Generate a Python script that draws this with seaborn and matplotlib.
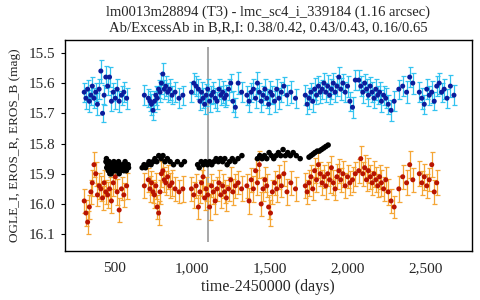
import numpy as np
import pandas as pd
import matplotlib
matplotlib.use('Agg')
import matplotlib.pyplot as plt
import seaborn as sns

nan = np.nan

# EROS epochs (B and R taken together), one line per season
eros_t = [305, 316, 327, 338, 348, 357, 368, 379, 390, 401, 412, 423, 433, 444, 456, 468, 480, 492, 505, 517, 530, 545, 560, 578,
          692, 718, 728, 738, 748, 757, 766, 775, 784, 793, 802, 811, 820, 830, 842, 855, 870, 890, 915, 940,
          995, 1010, 1025, 1040, 1050, 1060, 1070, 1080, 1090, 1100, 1112, 1124, 1136, 1148, 1160, 1172, 1184, 1196, 1208, 1220, 1234, 1248, 1262, 1278, 1296, 1318,
          1352, 1366, 1380, 1394, 1408, 1420, 1432, 1444, 1456, 1468, 1480, 1492, 1504, 1516, 1530, 1544, 1558, 1574, 1590, 1610, 1635, 1665,
          1728, 1740, 1752, 1764, 1776, 1788, 1800, 1812, 1824, 1836, 1848, 1860, 1872, 1884, 1896, 1908, 1920, 1932, 1944, 1956, 1970, 1985, 2000, 2015, 2032, 2050,
          2072, 2085, 2098, 2110, 2122, 2134, 2146, 2158, 2170, 2182, 2194, 2206, 2218, 2232, 2246, 2262, 2280, 2300, 2330, 2355, 2380, 2400, 2420,
          2462, 2478, 2494, 2510, 2526, 2542, 2558, 2574, 2590, 2606, 2622, 2640, 2662, 2685]

eros_b = [15.63, 15.65, 15.62, 15.66, 15.64, 15.61, 15.65, 15.63, 15.67, 15.62, 15.56, 15.70, 15.64, 15.58, 15.61, 15.58, 15.66, 15.63, 15.65, 15.62, 15.66, 15.64, 15.63, 15.65,
          15.64, 15.65, 15.66, 15.67, 15.69, 15.66, 15.64, 15.65, 15.62, 15.63, 15.60, 15.57, 15.62, 15.61, 15.63, 15.62, 15.64, 15.63, 15.65, 15.64,
          15.63, 15.60, 15.61, 15.62, 15.66, 15.63, 15.65, 15.67, 15.64, 15.62, 15.66, 15.64, 15.63, 15.65, 15.66, 15.62, 15.64, 15.63, 15.65, 15.64, 15.62, 15.60, 15.66, 15.68, 15.60, 15.63,
          15.64, 15.66, 15.63, 15.62, 15.65, 15.60, 15.63, 15.66, 15.64, 15.62, 15.65, 15.67, 15.63, 15.64, 15.66, 15.62, 15.65, 15.63, 15.61, 15.64, 15.63, 15.65,
          15.64, 15.67, 15.65, 15.63, 15.66, 15.62, 15.64, 15.61, 15.63, 15.62, 15.60, 15.63, 15.61, 15.64, 15.62, 15.60, 15.63, 15.61, 15.58, 15.62, 15.60, 15.63, 15.61, 15.66, 15.68, 15.59,
          15.59, 15.61, 15.63, 15.60, 15.62, 15.64, 15.61, 15.63, 15.65, 15.62, 15.64, 15.63, 15.66, 15.64, 15.65, 15.67, 15.69, 15.66, 15.62, 15.61, 15.63, 15.58, 15.60,
          15.63, 15.65, 15.67, 15.62, 15.64, 15.63, 15.66, 15.61, 15.60, 15.63, 15.62, 15.65, 15.61, 15.64]

eros_b_err = [0.032, 0.035, 0.030, 0.036, 0.033, 0.031, 0.034, 0.030, 0.036, 0.032, 0.038, 0.030, 0.034, 0.035, 0.031, 0.034, 0.033, 0.030, 0.035, 0.032, 0.034, 0.031, 0.033, 0.035,
              0.034, 0.030, 0.033, 0.035, 0.031, 0.034, 0.032, 0.036, 0.030, 0.033, 0.035, 0.037, 0.031, 0.034, 0.032, 0.035, 0.030, 0.033, 0.034, 0.031,
              0.033, 0.035, 0.032, 0.034, 0.030, 0.035, 0.033, 0.031, 0.036, 0.032, 0.034, 0.030, 0.035, 0.033, 0.031, 0.034, 0.032, 0.036, 0.030, 0.033, 0.035, 0.031, 0.034, 0.032, 0.037, 0.033,
              0.032, 0.035, 0.031, 0.034, 0.033, 0.036, 0.030, 0.034, 0.032, 0.035, 0.031, 0.033, 0.036, 0.030, 0.034, 0.032, 0.035, 0.033, 0.031, 0.034, 0.036, 0.032,
              0.033, 0.031, 0.035, 0.032, 0.034, 0.036, 0.030, 0.033, 0.035, 0.031, 0.034, 0.032, 0.036, 0.030, 0.033, 0.035, 0.031, 0.034, 0.032, 0.036, 0.030, 0.033, 0.035, 0.031, 0.034, 0.032,
              0.034, 0.032, 0.035, 0.030, 0.033, 0.036, 0.031, 0.034, 0.032, 0.035, 0.030, 0.033, 0.036, 0.031, 0.034, 0.032, 0.035, 0.033, 0.031, 0.034, 0.036, 0.032, 0.035,
              0.033, 0.035, 0.031, 0.034, 0.032, 0.036, 0.030, 0.033, 0.035, 0.031, 0.034, 0.032, 0.036, 0.033]

eros_r = [15.99, 16.03, 16.06, 16.01, 15.96, 15.93, 15.87, 15.90, 15.97, 15.94, 15.95, 15.98, 15.93, 15.96, 15.97, 15.95, 15.99, 15.93, 15.91, 15.96, 16.02, 15.95, 15.97, 15.94,
          15.94, 15.92, 15.95, 15.93, 15.96, 15.97, 15.94, 16.01, 16.03, 15.96, 15.90, 15.89, 15.92, 15.93, 15.91, 15.94, 15.93, 15.95, 15.96, 15.95,
          15.95, 15.97, 15.94, 16.01, 15.96, 15.93, 15.91, 15.98, 15.95, 15.97, 16.01, 15.94, 15.96, 15.99, 15.95, 15.93, 15.97, 15.94, 15.96, 15.98, 15.95, 15.92, 15.96, 15.94, 15.93, 15.95,
          15.94, 15.99, 15.92, 15.95, 15.89, 15.93, 15.87, 16.00, 15.95, 15.92, 15.94, 16.01, 16.03, 15.96, 15.93, 15.95, 15.91, 15.94, 15.90, 15.96, 15.93, 15.95,
          15.94, 15.96, 15.93, 15.91, 15.95, 15.89, 15.92, 15.87, 15.90, 15.93, 15.91, 15.94, 15.90, 15.92, 15.88, 15.93, 15.95, 15.91, 15.89, 15.92, 15.90, 15.94, 15.91, 15.93, 15.92, 15.90,
          15.89, 15.85, 15.90, 15.88, 15.92, 15.89, 15.91, 15.93, 15.90, 15.92, 15.94, 15.91, 15.93, 15.95, 15.92, 15.96, 15.99, 16.01, 15.95, 15.91, 15.93, 15.87, 15.92,
          15.90, 15.93, 15.91, 15.94, 15.92, 15.87, 15.96, 15.93, nan, nan, nan, nan, nan, nan]

eros_r_err = [0.040, 0.043, 0.038, 0.041, 0.039, 0.044, 0.042, 0.040, 0.038, 0.043, 0.041, 0.039, 0.042, 0.040, 0.044, 0.038, 0.041, 0.043, 0.039, 0.042, 0.040, 0.038, 0.041, 0.043,
              0.041, 0.039, 0.043, 0.040, 0.038, 0.042, 0.044, 0.039, 0.041, 0.040, 0.043, 0.038, 0.042, 0.040, 0.039, 0.041, 0.043, 0.040, 0.038, 0.042,
              0.040, 0.043, 0.039, 0.041, 0.038, 0.042, 0.044, 0.040, 0.039, 0.041, 0.043, 0.038, 0.040, 0.042, 0.039, 0.041, 0.044, 0.040, 0.038, 0.042, 0.039, 0.041, 0.043, 0.040, 0.038, 0.041,
              0.039, 0.042, 0.040, 0.043, 0.038, 0.041, 0.044, 0.039, 0.040, 0.042, 0.038, 0.041, 0.043, 0.040, 0.039, 0.042, 0.040, 0.038, 0.041, 0.043, 0.039, 0.040,
              0.041, 0.039, 0.043, 0.040, 0.038, 0.042, 0.040, 0.044, 0.039, 0.041, 0.038, 0.042, 0.040, 0.043, 0.039, 0.041, 0.038, 0.042, 0.040, 0.039, 0.043, 0.041, 0.038, 0.040, 0.042, 0.039,
              0.040, 0.043, 0.039, 0.041, 0.038, 0.042, 0.040, 0.039, 0.043, 0.041, 0.038, 0.040, 0.042, 0.039, 0.041, 0.043, 0.040, 0.038, 0.042, 0.039, 0.041, 0.044, 0.040,
              0.041, 0.039, 0.043, 0.040, 0.038, 0.042, 0.040, 0.041, nan, nan, nan, nan, nan, nan]

# OGLE I band, no error bars
ogle_t = [445, 448, 450, 455, 460, 466, 470, 472, 478, 484, 490, 496, 500, 502, 508, 514, 520, 526, 530, 532, 538, 545, 552, 560, 560, 568, 576, 584, 588, 590,
          678, 690, 700, 712, 722, 735, 748, 760, 772, 785, 800, 812, 825, 840, 858, 880, 905, 930, 950,
          1035, 1045, 1058, 1072, 1085, 1098, 1112, 1126, 1140, 1154, 1168, 1182, 1196, 1210, 1225, 1240, 1258, 1275, 1295, 1320,
          1420, 1435, 1450, 1465, 1480, 1495, 1510, 1525, 1540, 1555, 1570, 1585, 1600, 1615, 1632, 1650, 1670, 1695,
          1752, 1765, 1778, 1790, 1805, 1818, 1832, 1846, 1860, 1875]
ogle_i = [15.86, 15.85, 15.88, 15.87, 15.89, 15.86, 15.90, 15.88, 15.90, 15.87, 15.89, 15.86, 15.89, 15.88, 15.87, 15.89, 15.88, 15.86, 15.90, 15.87, 15.89, 15.88, 15.87, 15.88, 15.89, 15.86, 15.89, 15.87, 15.87, 15.88,
          15.88, 15.87, 15.88, 15.87, 15.86, 15.87, 15.86, 15.85, 15.86, 15.84, 15.85, 15.84, 15.86, 15.85, 15.86, 15.87, 15.86, 15.87, 15.86,
          15.87, 15.88, 15.86, 15.87, 15.86, 15.87, 15.86, 15.87, 15.86, 15.85, 15.86, 15.85, 15.86, 15.85, 15.87, 15.86, 15.85, 15.86, 15.85, 15.84,
          15.85, 15.84, 15.85, 15.84, 15.85, 15.83, 15.84, 15.85, 15.84, 15.83, 15.84, 15.82, 15.84, 15.83, 15.84, 15.83, 15.84, 15.85,
          15.845, 15.84, 15.835, 15.83, 15.825, 15.825, 15.82, 15.815, 15.81, 15.805]

event_t = 1103
event_mag = [15.48, 16.125]

title = ('lm0013m28894 (T3) - lmc_sc4_i_339184 (1.16 arcsec)\n'
         'Ab/ExcessAb in B,R,I: 0.38/0.42, 0.43/0.43, 0.16/0.65')

df_eros = pd.DataFrame({'t': eros_t, 'B': eros_b, 'Berr': eros_b_err,
                        'R': eros_r, 'Rerr': eros_r_err})
df_ogle = pd.DataFrame({'t': ogle_t, 'I': ogle_i})

sns.set_style('ticks')
plt.rcParams['font.family'] = ['Liberation Serif', 'DejaVu Serif']

fig = plt.figure(figsize=(4.8, 3.0), dpi=100)
ax = fig.add_axes([0.135, 0.163, 0.848, 0.704])

ax.vlines(event_t, event_mag[0], event_mag[1], color='#a0a0a0', lw=1.3, zorder=1)

# EROS B: cyan bars, navy points
ax.errorbar(df_eros.t, df_eros.B, yerr=df_eros.Berr, fmt='none',
            ecolor='#33c3f0', elinewidth=0.9, capsize=1.8, capthick=0.9, zorder=2)
sns.scatterplot(x='t', y='B', data=df_eros, ax=ax, color='#0b1c9c',
                s=13, edgecolor='none', zorder=3)

# EROS R: orange bars, dark red points
ax.errorbar(df_eros.t, df_eros.R, yerr=df_eros.Rerr, fmt='none',
            ecolor='#f5a636', elinewidth=0.9, capsize=1.8, capthick=0.9, zorder=2)
sns.scatterplot(x='t', y='R', data=df_eros, ax=ax, color='#b81400',
                s=13, edgecolor='none', zorder=3)

# OGLE I: black points
sns.scatterplot(x='t', y='I', data=df_ogle, ax=ax, color='black',
                s=16, edgecolor='none', zorder=4)

ax.set_xlim(180, 2800)
ax.set_ylim(16.156, 15.457)
ax.set_xticks([500, 1000, 1500, 2000, 2500])
ax.set_xticklabels(['500', '1,000', '1,500', '2,000', '2,500'])
ax.set_yticks([15.5, 15.6, 15.7, 15.8, 15.9, 16.0, 16.1])
ax.set_yticklabels(['15.5', '15.6', '15.7', '15.8', '15.9', '16.0', '16.1'])
ax.tick_params(axis='both', labelsize=11, length=3, width=0.8, color='black')
ax.tick_params(axis='x', length=0, pad=8)
for sp in ax.spines.values():
    sp.set_visible(True)
    sp.set_color('black')
    sp.set_linewidth(1.0)

ax.set_xlabel('time-2450000 (days)', fontsize=11.5, labelpad=3)
ax.set_ylabel('OGLE_I, EROS_R, EROS_B (mag)', fontsize=9.5, labelpad=6)
ax.set_title(title, fontsize=10.5, pad=6, linespacing=1.3)

fig.savefig('out.png', dpi=100)
